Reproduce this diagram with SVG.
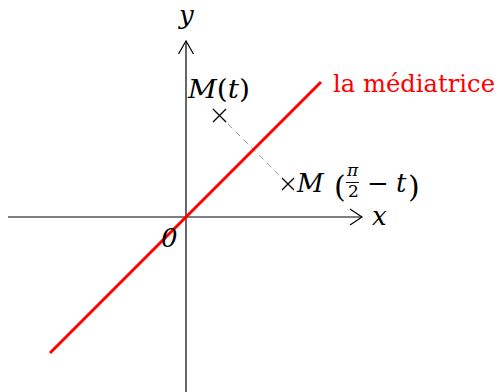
<svg xmlns="http://www.w3.org/2000/svg" width="500" height="392" viewBox="0 0 500 392">
<style>
text{font-family:"DejaVu Serif",serif}
.i{font-style:italic}
.ax{stroke:#000;stroke-width:1.2;fill:none}
.cr{stroke:#000;stroke-width:1.3;fill:none}
</style>
<rect width="500" height="392" fill="#fff"/>
<g id="connectors">
  <g id="x-axis">
    <line class="ax" x1="8" y1="217" x2="361" y2="217"/>
    <path class="ax" d="M350,209 L362,217 L350,225"/>
  </g>
  <g id="y-axis">
    <line class="ax" x1="186" y1="392" x2="186" y2="41"/>
    <path class="ax" d="M178.5,54 L186,41 L193.5,54"/>
  </g>
  <line id="segment" x1="228" y1="124" x2="280" y2="176" stroke="#999" stroke-width="1" stroke-dasharray="6 5"/>
  <line id="mediatrice" x1="50" y1="353" x2="321" y2="82" stroke="#ff0000" stroke-width="3"/>
</g>
<g fill="#000">
<g id="label-x"><text class="i" x="372" y="225" font-size="26">x</text></g>
<g id="label-y"><text class="i" x="179" y="24" font-size="26">y</text></g>
<g id="label-0"><text class="i" x="161" y="247" font-size="26">0</text></g>
<g id="label-mediatrice"><text x="333" y="92" font-size="24" fill="#ff0000" textLength="162" lengthAdjust="spacingAndGlyphs">la médiatrice</text></g>
<g id="point-Mt">
  <path class="cr" d="M213,109 L226,122 M226,109 L213,122"/>
  <text x="188" y="98" font-size="26" textLength="62" lengthAdjust="spacingAndGlyphs"><tspan class="i">M</tspan>(<tspan class="i">t</tspan>)</text>
</g>
<g id="point-Mpi">
  <path class="cr" d="M282,178 L294,190 M294,178 L282,190"/>
  <text class="i" x="297" y="192" font-size="26">M</text>
  <text x="334" y="197" font-size="30">(</text>
  <text class="i" x="347" y="176" font-size="17">π</text>
  <line x1="346" y1="182.5" x2="359" y2="182.5" stroke="#000" stroke-width="1"/>
  <text x="348" y="197" font-size="17">2</text>
  <text x="367" y="192" font-size="26">−</text>
  <text class="i" x="396" y="192" font-size="26">t</text>
  <text x="408" y="197" font-size="30">)</text>
</g>
</g>
</svg>
